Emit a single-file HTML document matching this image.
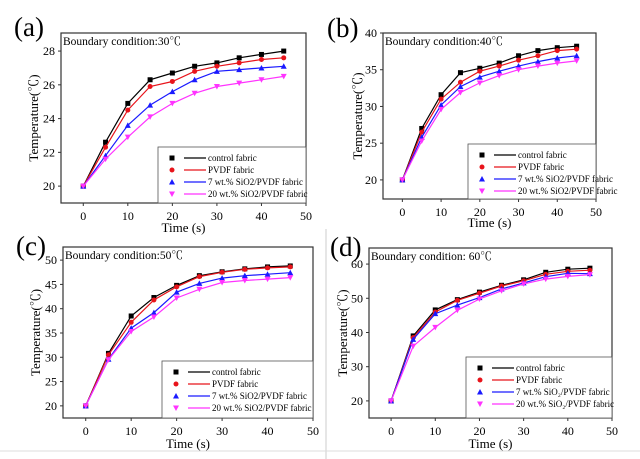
<!DOCTYPE html>
<html><head><meta charset="utf-8"><style>
html,body{margin:0;padding:0;background:#fff;}
svg{display:block;font-family:"Liberation Serif","Noto Serif CJK SC",serif;}
</style></head><body>
<svg id="fig" width="640" height="459" viewBox="0 0 640 459" xmlns="http://www.w3.org/2000/svg">
<rect x="0" y="0" width="640" height="459" fill="#fff"/>
<line x1="326" y1="229" x2="326" y2="459" stroke="#ccc" stroke-width="1"/>
<line x1="0" y1="451" x2="640" y2="451" stroke="#ddd" stroke-width="1"/>
</svg>
<script>
const times = [0,5,10,15,20,25,30,35,40,45];
const seriesNames = ["control fabric","PVDF fabric","7 wt.% SiO2/PVDF fabric","20 wt.% SiO2/PVDF fabric"];
const seriesNamesD = ["control fabric","PVDF fabric","7 wt.% SiO₂/PVDF fabric","20 wt.% SiO₂/PVDF fabric"];
const xTicks = [0,10,20,30,40,50];
const aControl = [20,22.6,24.9,26.3,26.7,27.1,27.3,27.6,27.8,28.0];
const aPVDF = [20,22.3,24.5,25.9,26.2,26.8,27.1,27.3,27.5,27.6];
const a7 = [20,21.8,23.6,24.8,25.6,26.3,26.8,26.9,27.0,27.1];
const a20 = [20,21.6,22.9,24.1,24.9,25.5,25.9,26.1,26.3,26.5];
const aTicks = [20,22,24,26,28];
const bControl = [20,27.0,31.6,34.6,35.2,35.9,36.9,37.6,38.0,38.2];
const bPVDF = [20,26.5,31.0,33.3,34.8,35.5,36.3,36.9,37.6,37.8];
const b7 = [20,25.8,30.2,32.7,34.0,34.8,35.5,36.1,36.6,36.9];
const b20 = [20,25.3,29.6,31.9,33.2,34.2,35.0,35.5,35.9,36.2];
const bTicks = [20,25,30,35,40];
const cControl = [20,30.8,38.5,42.3,44.8,46.8,47.6,48.2,48.6,48.8];
const cPVDF = [20,30.5,37.2,41.8,44.5,46.6,47.5,48.1,48.4,48.6];
const c7 = [20,29.6,36.0,39.2,43.4,45.2,46.3,46.8,47.1,47.4];
const c20 = [20,29.5,35.3,38.3,42.2,44.0,45.4,45.8,46.1,46.4];
const cTicks = [20,25,30,35,40,45,50];
const dControl = [20,39.0,46.6,49.6,51.8,53.8,55.4,57.6,58.5,58.8];
const dPVDF = [20,38.5,46.0,49.4,51.5,53.6,55.1,57.0,57.9,58.2];
const d7 = [20,38.0,45.5,48.0,50.2,52.7,54.5,56.3,57.3,57.2];
const d20 = [20,36.0,41.5,46.5,49.8,52.2,54.2,55.6,56.4,56.9];
const dTicks = [20,30,40,50,60];

const NS="http://www.w3.org/2000/svg";
const svg=document.getElementById('fig');
const colors=["#000000","#e8141b","#1a1aff","#ff33ff"];
function mk(tag,attrs,parent){const e=document.createElementNS(NS,tag);for(const k in attrs)e.setAttribute(k,attrs[k]);(parent||svg).appendChild(e);return e;}

function panel(p){
  const g=mk('g',{});
  
  
  const sx=v=>p.L+(v-(-5))/(55)*(p.R-p.L);
  const sy=v=>p.B-(v-p.ymin)/(p.ymax-p.ymin)*(p.B-p.T);
  const lab=mk('text',{x:p.lx,y:p.ly,'font-size':27,fill:'#000'},g);lab.textContent='('+p.id+')';
  
  const box=mk('rect',{x:p.L,y:p.T,width:p.R-p.L,height:p.B-p.T,fill:'none',stroke:'#333','stroke-width':1.2},g);
  
  p.xt.forEach(v=>{const x=sx(v);mk('line',{x1:x,y1:p.B,x2:x,y2:p.B+3,stroke:'#333'},g);
    const t=mk('text',{x:x,y:p.B+17,'font-size':12,'text-anchor':'middle'},g);t.textContent=v;
    });
  p.yt.forEach(v=>{const y=sy(v);mk('line',{x1:p.L-3,y1:y,x2:p.L,y2:y,stroke:'#333'},g);
    const t=mk('text',{x:p.L-6,y:y+4,'font-size':12,'text-anchor':'end'},g);t.textContent=v;
    });
  const xt=mk('text',{x:(p.L+p.R)/2,y:p.xty,'font-size':13,'text-anchor':'middle'},g);xt.textContent='Time (s)';
  
  const cy=(p.T+p.B)/2;
  const yt=mk('text',{x:p.ytx,y:cy,'font-size':13,'text-anchor':'middle',transform:`rotate(-90 ${p.ytx} ${cy})`},g);yt.textContent=p.ytitle;
  
  const tt=mk('text',{x:p.L+2,y:p.T+12,'font-size':11.5},g);tt.textContent=p.title;
  
  const lg=mk('g',{},g);
  
  mk('rect',{x:p.lgx,y:p.lgy,width:p.R-p.lgx,height:p.B-p.lgy,fill:'#fff',stroke:'#555','stroke-width':0.8},lg);
  p.series.forEach((s,i)=>{
    const col=colors[i];
    const pts=s.map((v,j)=>sx(times[j]).toFixed(1)+','+sy(v).toFixed(1)).join(' ');
    const pl=mk('polyline',{points:pts,fill:'none',stroke:col,'stroke-width':1.2},g);
    
    s.forEach((v,j)=>{const m=marker(g,i,sx(times[j]),sy(v),col);
      });
    const ey=p.lgy+11+i*12;
    marker(lg,i,p.lgx+14,ey,col);
    mk('line',{x1:p.lgx+26,y1:ey,x2:p.lgx+48,y2:ey,stroke:col,'stroke-width':1.2},lg);
    const et=mk('text',{x:p.lgx+50,y:ey+3,'font-size':9},lg);et.textContent=p.names[i];
    
  });
}
function marker(g,i,x,y,col){
  const s=2.5;
  if(i===0) return mk('rect',{x:x-s,y:y-s,width:2*s,height:2*s,fill:col},g);
  if(i===1) return mk('circle',{cx:x,cy:y,r:s,fill:col},g);
  if(i===2) return mk('polygon',{points:`${x},${y-s-0.5} ${x-s-0.5},${y+s} ${x+s+0.5},${y+s}`,fill:col},g);
  return mk('polygon',{points:`${x},${y+s+0.5} ${x-s-0.5},${y-s} ${x+s+0.5},${y-s}`,fill:col},g);
}
panel({id:'a',L:61,R:306,T:33,B:203,ymin:19,ymax:29.07,xt:xTicks,yt:aTicks,lx:14,ly:36,xty:232,ytx:38,
  ytitle:'Temperature(℃)',title:'Boundary condition:30℃',lgx:158,lgy:147,names:seriesNames,series:[aControl,aPVDF,a7,a20]});
panel({id:'b',L:383,R:596,T:33,B:199,ymin:17.4,ymax:40,xt:xTicks,yt:bTicks,lx:327,ly:37,xty:227,ytx:362,
  ytitle:'Temperature(℃)',title:'Boundary condition:40℃',lgx:468,lgy:144,names:seriesNames,series:[bControl,bPVDF,b7,b20]});
panel({id:'c',L:63,R:313,T:247,B:418,ymin:17.5,ymax:52.7,xt:xTicks,yt:cTicks,lx:16,ly:255,xty:448,ytx:40,
  ytitle:'Temperature(℃)',title:'Boundary condition:50℃',lgx:162,lgy:361,names:seriesNames,series:[cControl,cPVDF,c7,c20]});
panel({id:'d',L:369,R:612,T:248,B:418,ymin:15,ymax:64.7,xt:xTicks,yt:dTicks,lx:330,ly:256,xty:448,ytx:347,
  ytitle:'Temperature(℃)',title:'Boundary condition: 60℃',lgx:466,lgy:357,names:seriesNamesD,series:[dControl,dPVDF,d7,d20]});
</script>
</body></html>
